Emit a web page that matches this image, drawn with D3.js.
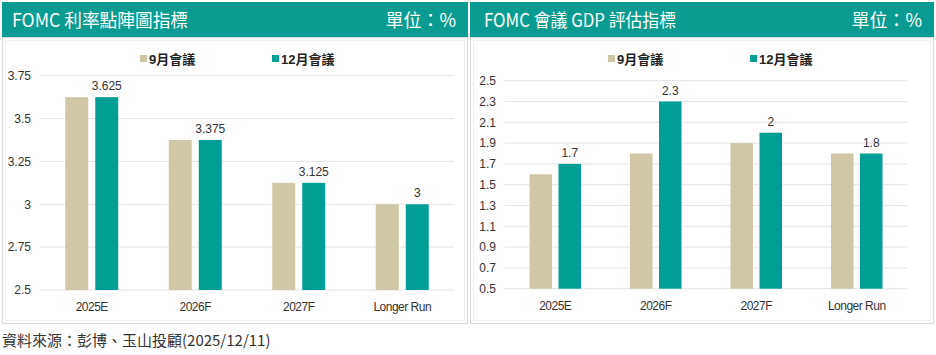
<!DOCTYPE html>
<html><head><meta charset="utf-8">
<script src="https://cdnjs.cloudflare.com/ajax/libs/d3/7.8.5/d3.min.js"></script>
<style>body{margin:0;background:#fff}svg{display:block}</style>
</head><body><svg id="c" width="936" height="355"></svg>
<script>
const categories = ["2025E","2026F","2027F","Longer Run"];
const seriesNames = ["9月會議","12月會議"];
const rateSep = [3.625,3.375,3.125,3.0];
const rateDec = [3.625,3.375,3.125,3.0];
const rateTicks = [2.5,2.75,3,3.25,3.5,3.75];
const gdpSep = [1.6,1.8,1.9,1.8];
const gdpDec = [1.7,2.3,2.0,1.8];
const gdpTicks = [0.5,0.7,0.9,1.1,1.3,1.5,1.7,1.9,2.1,2.3,2.5];
const titles = ["FOMC 利率點陣圖指標","FOMC 會議 GDP 評估指標"];
const unitText = "單位：%";
const sourceText = "資料來源：彭博、玉山投顧(2025/12/11)";

const colors = ["#CFC7A7","#009E94"];
const svg = d3.select("#c");
const font = "'Liberation Sans', Arial, sans-serif";

function panel(opt){
  const g = svg.append("g");
  g.append("rect").attr("x",opt.px+0.5).attr("y",37.5).attr("width",opt.pw-1).attr("height",286)
   .attr("fill","#fff").attr("stroke","#d9d9d9");
  g.append("rect").attr("x",opt.px+3.5).attr("y",40.5).attr("width",opt.pw-7).attr("height",280)
   .attr("fill","none").attr("stroke","#efefef");
  g.append("rect").attr("x",opt.px).attr("y",2).attr("width",opt.pw).attr("height",35).attr("fill","#0A9C92");
  g.append("text").attr("x",opt.px+opt.tx).attr("y",27).attr("fill","#fff")
   .attr("font-family","'Noto Sans CJK TC', sans-serif").attr("font-size",18)
   .attr("textLength",opt.tl).attr("lengthAdjust","spacingAndGlyphs").text(opt.title);
  g.append("text").attr("x",opt.px+opt.pw-12).attr("y",27).attr("fill","#fff").attr("text-anchor","end")
   .attr("font-family","'Noto Sans CJK TC', sans-serif").attr("font-size",18).text(unitText);

  const x = d3.scaleBand().domain(categories).range([opt.x0,opt.x1]);
  const y = d3.scaleLinear().domain([opt.ticks[0],opt.ticks[opt.ticks.length-1]]).range([opt.y0,opt.y1]);
  const bw = opt.bw, gap = opt.gap;
  const xs = d3.scaleOrdinal().domain([0,1]).range([-(bw+gap/2), gap/2]);

  g.append("g").selectAll("line").data(opt.ticks).join("line")
   .attr("x1",opt.x0).attr("x2",opt.x1).attr("y1",d=>y(d)).attr("y2",d=>y(d))
   .attr("stroke","#e4e4e4").attr("stroke-width",1);
  const ya = d3.axisLeft(y).tickValues(opt.ticks).tickSize(0).tickPadding(0).tickFormat(d=>String(+d.toFixed(3)));
  const yg = g.append("g").attr("transform",`translate(${opt.ylab},0)`).call(ya);
  yg.select(".domain").remove();
  yg.selectAll("text").attr("font-family",font).attr("font-size",12).attr("fill","#333");

  [opt.s1,opt.s2].forEach((arr,si)=>{
    g.append("g").selectAll("rect").data(arr).join("rect")
     .attr("x",(d,i)=>x(categories[i])+x.bandwidth()/2+xs(si))
     .attr("width",bw).attr("y",d=>y(d)).attr("height",d=>opt.y0-y(d))
     .attr("fill",colors[si]);
  });
  g.append("g").selectAll("text").data(opt.s2).join("text")
   .attr("x",(d,i)=>x(categories[i])+x.bandwidth()/2+xs(1)+bw/2)
   .attr("y",d=>y(d)-7).attr("text-anchor","middle")
   .attr("font-family",font).attr("font-size",12).attr("fill","#333").text(d=>String(d));

  const xa = d3.axisBottom(x).tickSize(0).tickPadding(0);
  const xg = g.append("g").attr("transform",`translate(0,${opt.y0+21})`).call(xa);
  xg.select(".domain").remove();
  xg.selectAll("text").attr("font-family",font).attr("font-size",12).attr("fill","#333").attr("letter-spacing","-0.5px").attr("dy","0");

  seriesNames.forEach((n,i)=>{
    const lx = opt.leg[i];
    g.append("rect").attr("x",lx).attr("y",55).attr("width",7).attr("height",7).attr("fill",colors[i]);
    g.append("text").attr("x",lx+9).attr("y",63.5).attr("font-family","'Liberation Sans','Noto Sans CJK TC',sans-serif")
     .attr("font-weight","bold").attr("font-size",13).attr("fill","#222").text(n);
  });
}

panel({px:2,pw:466,title:titles[0],tx:10,tl:176,x0:40,x1:454,y0:290,y1:75.7,ticks:rateTicks,s1:rateSep,s2:rateDec,bw:23,gap:7,ylab:31,leg:[140,272]});
panel({px:470,pw:464,title:titles[1],tx:14,tl:192,x0:505,x1:907,y0:288.7,y1:80.7,ticks:gdpTicks,s1:gdpSep,s2:gdpDec,bw:22.5,gap:6.5,ylab:496,leg:[608,750]});

svg.append("text").attr("x",2).attr("y",346).attr("font-family","'Noto Sans CJK TC', sans-serif")
 .attr("font-size",15).attr("fill","#333").text(sourceText);
</script></body></html>
